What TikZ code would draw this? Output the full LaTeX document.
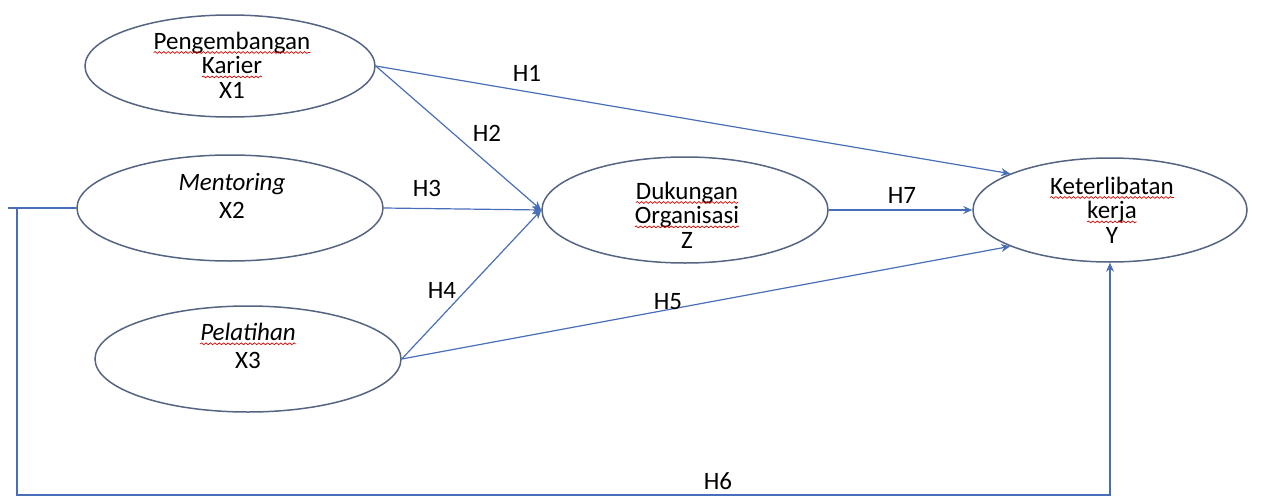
\documentclass[tikz,border=0pt]{standalone}
\usepackage{fontspec}
\setmainfont{Carlito}
\usetikzlibrary{shapes.geometric,arrows.meta,decorations.pathmorphing}
\newcommand\redwave[1]{\tikz[baseline=(w.base)]{\node[inner sep=0pt,outer sep=0pt,draw=none,shape=rectangle] (w) {#1};
 \draw[red!85!black, line width=0.35pt, decorate, decoration={snake,amplitude=0.45pt,segment length=2.2pt}] ([yshift=-1.6pt]w.base west) -- ([yshift=-1.6pt]w.base east);}}
\definecolor{edgeblue}{RGB}{72,110,186}
\definecolor{ovalline}{RGB}{85,100,130}
\tikzset{
  oval/.style={ellipse, draw=ovalline, line width=0.75pt, inner sep=0pt},
  txt/.style={align=center, font=\fontsize{12.5}{12.2}\selectfont, inner sep=0pt},
  txttwo/.style={align=center, font=\fontsize{12.5}{14}\selectfont, inner sep=0pt},
  conn/.style={draw=edgeblue, line width=0.6pt},
  arr/.style={conn, -{Stealth[length=4.5pt,width=4pt]}},
  hlab/.style={font=\fontsize{12.5}{12}\selectfont, inner sep=0pt}
}
\begin{document}
\begin{tikzpicture}[x=0.5pt,y=-0.5pt]
\useasboundingbox (0,0) rectangle (1264,498);
% ovals
\node[oval, minimum width=145pt, minimum height=51pt] (X1) at (230,66) {};
\node[oval, minimum width=153pt, minimum height=53pt] (X2) at (230,208) {};
\node[oval, minimum width=153pt, minimum height=53pt] (X3) at (248,359) {};
\node[oval, minimum width=143pt, minimum height=53pt] (Z) at (685,210) {};
\node[oval, minimum width=137pt, minimum height=52pt] (Y) at (1110,210) {};
% texts
\node[txt] (tX1) at (232,65) {\redwave{Pengembangan}\\\redwave{Karier}\\X1};
\node[txttwo] (tX2) at (232,196) {\textit{Mentoring}\\X2};
\node[txttwo] (tX3) at (248,346) {\redwave{\textit{Pelatihan}}\\X3};
\node[txt] (tZ) at (687,215) {\redwave{Dukungan}\\\redwave{Organisasi}\\Z};
\node[txt] (tY) at (1112,210) {\redwave{Keterlibatan}\\\redwave{kerja}\\Y};
% connectors
\draw[arr] (X1.east) -- (Y.160);
\draw[arr] (X1.east) -- (Z.west);
\draw[arr] (X2.east) -- (Z.west);
\draw[arr] (X3.east) -- (Z.west);
\draw[arr] (X3.east) -- (Y.200);
\draw[arr] (Z.east) -- (Y.west);
\coordinate (h6a) at (8,208);
\coordinate (h6b) at (17,208);
\coordinate (h6c) at (17,495);
\draw[conn] (X2.west) -- (h6a);
\draw[arr] (h6b) -- (h6c) -| (Y.south);
% labels
\node[hlab] (H1) at (527,73) {H1};
\node[hlab] (H2) at (487,133) {H2};
\node[hlab] (H3) at (427,188) {H3};
\node[hlab] (H4) at (442,290) {H4};
\node[hlab] (H5) at (668,302) {H5};
\node[hlab] (H7) at (902,195) {H7};
\node[hlab] (H6) at (718,481) {H6};
\end{tikzpicture}
\end{document}
